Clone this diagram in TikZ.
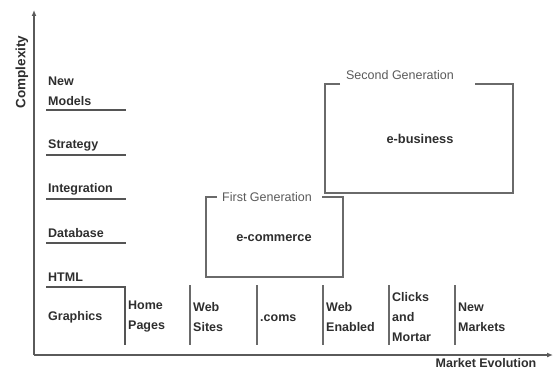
\documentclass[tikz,border=0pt]{standalone}
\usepackage{fontspec}
\setmainfont{Liberation Sans}
\usetikzlibrary{arrows.meta}
\definecolor{txt}{HTML}{2E2E2E}
\definecolor{ln}{HTML}{6A6A6A}
\definecolor{ttl}{HTML}{5A5A5A}
\tikzset{
  axisline/.style={draw=ln!85!black, line width=1.8pt, -{Latex[length=6pt,width=5pt]}},
  levelline/.style={draw=ln!80!black, line width=1.3pt},
  sepline/.style={draw=ln, line width=1.3pt},
  genbox/.style={draw=ln, line width=1.4pt},
  lbl/.style={text=txt, font=\fontsize{12.5}{20}\selectfont\bfseries, anchor=west, inner sep=0pt, align=left},
  ttlstyle/.style={text=ttl, font=\fontsize{12.5}{15}\selectfont, inner sep=1pt},
  inbox/.style={text=txt, font=\fontsize{12.8}{15}\selectfont\bfseries, inner sep=0pt}
}
\begin{document}
\begin{tikzpicture}[x=1pt,y=-1pt]
\useasboundingbox (0,0) rectangle (553,371);
% axes
\coordinate (O) at (34,355);
\coordinate (Ytop) at (34,10);
\coordinate (Xend) at (553,355);
\draw[axisline] (O) -- (Ytop);
\draw[axisline] (O) -- (Xend);
\node[text=txt, font=\fontsize{13.5}{15}\selectfont\bfseries, rotate=90, inner sep=0pt] (cx) at (22,72) {Complexity};
\node[text=txt, font=\fontsize{12.5}{15}\selectfont\bfseries, inner sep=0pt] (me) at (486,363.5) {Market Evolution};
% level labels
\node[lbl] (nm) at (48,91.5) {New\\Models};
\node[lbl] (st) at (48,145) {Strategy};
\node[lbl] (in) at (48,189) {Integration};
\node[lbl] (db) at (48,233) {Database};
\node[lbl] (ht) at (48,277) {HTML};
\node[lbl] (gr) at (48,317) {Graphics};
% level lines
\coordinate (l1a) at (46,110); \coordinate (l1b) at (126,110);
\coordinate (l2a) at (46,155); \coordinate (l2b) at (126,155);
\coordinate (l3a) at (46,199); \coordinate (l3b) at (126,199);
\coordinate (l4a) at (46,243); \coordinate (l4b) at (126,243);
\coordinate (l5a) at (46,287); \coordinate (l5b) at (125,287);
\coordinate (l5c) at (125,345);
\draw[levelline] (l1a) -- (l1b);
\draw[levelline] (l2a) -- (l2b);
\draw[levelline] (l3a) -- (l3b);
\draw[levelline] (l4a) -- (l4b);
\draw[levelline] (l5a) -- (l5b) -- (l5c);
% column separators
\foreach \n/\x in {s1/190,s2/257,s3/323,s4/389,s5/455}{
  \coordinate (\n t) at (\x,285);
  \coordinate (\n b) at (\x,345);
  \draw[sepline] (\n t) -- (\n b);
}
% column labels
\node[lbl] (hp) at (128,317) {Home\\Pages};
\node[lbl] (ws) at (193,317) {Web\\Sites};
\node[lbl] (co) at (260,318) {.coms};
\node[lbl] (we) at (326,317) {Web\\Enabled};
\node[lbl] (cm) at (392,317) {Clicks\\and\\Mortar};
\node[lbl] (nmk) at (458,317) {New\\Markets};
% first generation box
\coordinate (f1) at (217,197);
\coordinate (f2) at (206,197);
\coordinate (f3) at (206,277);
\coordinate (f4) at (343,277);
\coordinate (f5) at (343,197);
\coordinate (f6) at (322,197);
\draw[genbox] (f1) -- (f2) -- (f3) -- (f4) -- (f5) -- (f6);
\node[ttlstyle] (fg) at (267,197) {First Generation};
\node[inbox] (ec) at (274,238) {e-commerce};
% second generation box
\coordinate (g1) at (340,84);
\coordinate (g2) at (325,84);
\coordinate (g3) at (325,193);
\coordinate (g4) at (513,193);
\coordinate (g5) at (513,84);
\coordinate (g6) at (475,84);
\draw[genbox] (g1) -- (g2) -- (g3) -- (g4) -- (g5) -- (g6);
\node[ttlstyle] (sg) at (400,75) {Second Generation};
\node[inbox] (eb) at (420,139) {e-business};
\end{tikzpicture}
\end{document}
